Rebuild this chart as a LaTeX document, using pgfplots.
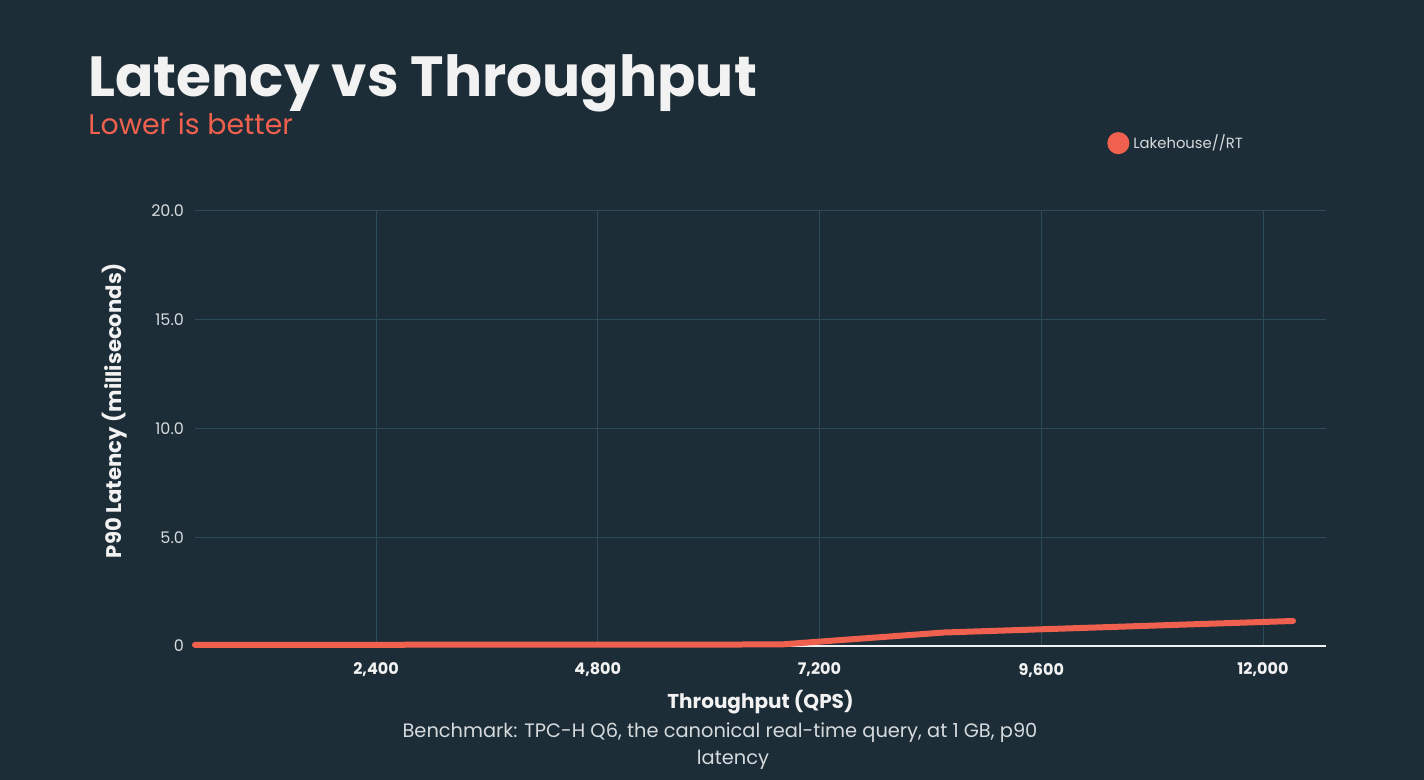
\documentclass[border=0pt]{standalone}
\usepackage{fontspec}
\setmainfont{Poppins}
\usepackage{pgfplots}
\pgfplotsset{compat=1.18}
\definecolor{bg}{HTML}{1D2D37}
\definecolor{gridc}{HTML}{2C4A5A}
\definecolor{linec}{HTML}{F0604E}
\definecolor{txt}{HTML}{F2F2F2}
\definecolor{tick}{HTML}{D5DADD}
\begin{document}
\begin{tikzpicture}
\fill[bg] (0pt,0pt) rectangle (712pt,390pt);
\node[anchor=base west,inner sep=0,text=txt,font=\fontsize{28.3}{30}\selectfont\bfseries] at (44pt,341.5pt) {Latency vs Throughput};
\node[anchor=base west,inner sep=0,text=linec,font=\fontsize{14.2}{16}\selectfont] at (44pt,322.5pt) {Lower is better};
\begin{axis}[
  at={(97.5pt,67pt)}, anchor=south west,
  scale only axis, width=565.5pt, height=217.5pt,
  xmin=441, xmax=12682, ymin=0, ymax=20,
  scaled x ticks=false, scaled y ticks=false,
  axis x line*=bottom, axis y line*=left,
  x axis line style={draw=txt, line width=0.8pt, -},
  y axis line style={draw=none},
  xtick={2400,4800,7200,9600,12000},
  xticklabels={{2,400},{4,800},{7,200},{9,600},{12,000}},
  ytick={0,5,10,15,20},
  yticklabels={0,5.0,10.0,15.0,20.0},
  grid=major,
  major grid style={draw=gridc, line width=0.5pt},
  major tick length=0pt,
  tick style={draw=none},
  x tick label style={text=txt, font=\fontsize{8}{10}\selectfont\bfseries, yshift=-5pt},
  y tick label style={text=tick, font=\fontsize{8}{10}\selectfont, xshift=-2pt},
  xlabel={Throughput (QPS)},
  xlabel style={text=txt, font=\fontsize{10}{12}\selectfont\bfseries, yshift=0.5pt},
  ylabel={P90 Latency (milliseconds)},
  ylabel style={text=txt, font=\fontsize{10.6}{12}\selectfont\bfseries, yshift=5pt, xshift=9pt},
  legend style={at={(0.801,1.156)}, anchor=west, draw=none, fill=none, text=tick, font=\fontsize{7.4}{9}\selectfont},
  legend cell align=left,
  clip=false,
]
\addplot[linec, line width=3pt, line cap=round, line join=round,
  legend image code/.code={\fill[linec] (0.15cm,0cm) circle (4pt);}]
  coordinates {(441,0.05) (6783,0.07) (8547,0.62) (12325,1.15)};
\addlegendentry{Lakehouse//RT}
\end{axis}
\node[anchor=base,inner sep=0,text=tick,font=\fontsize{9.7}{11}\selectfont] at (360pt,21pt) {Benchmark: TPC-H Q6, the canonical real-time query, at 1 GB, p90};
\node[anchor=base,inner sep=0,text=tick,font=\fontsize{9.7}{11}\selectfont] at (366.5pt,7.5pt) {latency};
\end{tikzpicture}
\end{document}
